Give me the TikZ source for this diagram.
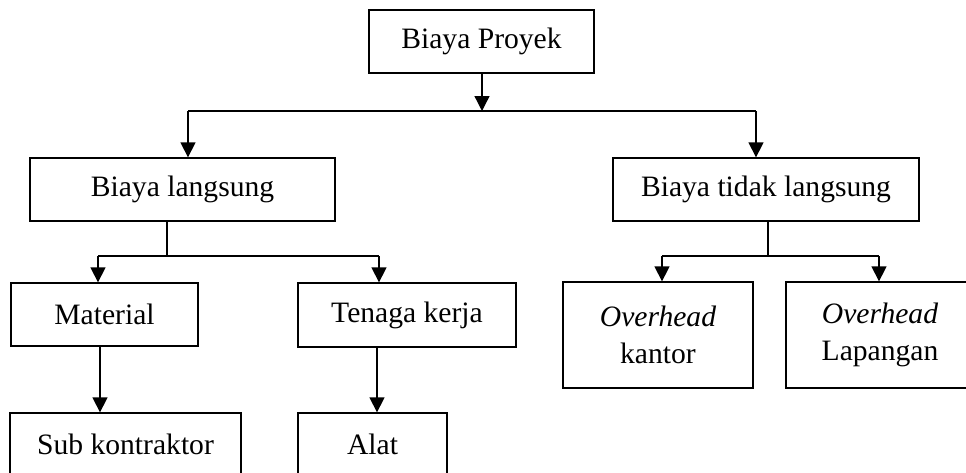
\documentclass[tikz,border=0pt]{standalone}
\usepackage{fontspec}
\setmainfont{Liberation Serif}
\usetikzlibrary{arrows.meta}
\tikzset{
  box/.style={draw, line width=1.3pt, rectangle, inner sep=0pt, align=center,
    font=\fontsize{29.6}{37}\selectfont},
  conn/.style={line width=1.3pt},
  arr/.style={line width=1.3pt, -{Triangle[width=15pt,length=15pt]}}
}
\begin{document}
\begin{tikzpicture}[x=1pt,y=-1pt]
\useasboundingbox (0,0) rectangle (966,472);
\begin{scope}
\clip (0,0) rectangle (966,472);
\node[box, minimum width=225pt, minimum height=63pt] (bp) at (481.5,41.5) {Biaya Proyek};
\node[box, minimum width=305pt, minimum height=63pt] (bl) at (182.5,189.5) {Biaya langsung};
\node[box, minimum width=306pt, minimum height=63pt] (btl) at (766,189.5) {Biaya tidak langsung};
\node[box, minimum width=187pt, minimum height=63pt] (mat) at (104.5,314.5) {Material};
\node[box, minimum width=218pt, minimum height=64pt] (tk) at (407,315) {Tenaga kerja};
\node[box, minimum width=190pt, minimum height=106pt] (ok) at (658,335) {\textit{Overhead}\\kantor};
\node[box, minimum width=188pt, minimum height=106pt] (ol) at (880,335) {\textit{Overhead}\\Lapangan};
\node[box, minimum width=231pt, minimum height=63pt] (sk) at (125.5,444.5) {Sub kontraktor};
\node[box, minimum width=149pt, minimum height=63pt] (al) at (372.5,444.5) {Alat};

\coordinate (j0) at (482,111);
\coordinate (jL) at (188,111);
\coordinate (jR) at (756,111);
\coordinate (s1) at (167,256);
\coordinate (m1) at (98,256);
\coordinate (t1) at (379,256);
\coordinate (s2) at (768,256);
\coordinate (o1) at (662,256);
\coordinate (o2) at (879,256);

\draw[arr] (bp.south -| j0) -- (j0);
\draw[conn] (jL) -- (jR);
\draw[arr] (jL) -- (jL |- bl.north);
\draw[arr] (jR) -- (jR |- btl.north);

\draw[conn] (bl.south -| s1) -- (s1);
\draw[conn] (m1) -- (t1);
\draw[arr] (m1) -- (m1 |- mat.north);
\draw[arr] (t1) -- (t1 |- tk.north);

\draw[conn] (btl.south -| s2) -- (s2);
\draw[conn] (o1) -- (o2);
\draw[arr] (o1) -- (o1 |- ok.north);
\draw[arr] (o2) -- (o2 |- ol.north);

\coordinate (x1) at (100,0);
\coordinate (x2) at (377,0);
\draw[arr] (mat.south -| x1) -- (sk.north -| x1);
\draw[arr] (tk.south -| x2) -- (al.north -| x2);
\end{scope}
\end{tikzpicture}
\end{document}
